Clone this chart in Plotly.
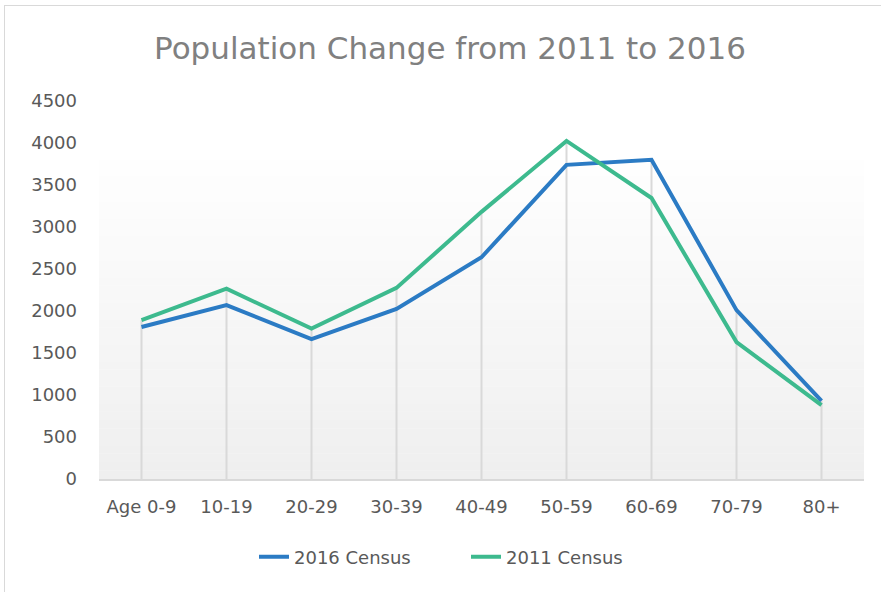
import plotly.graph_objects as go

categories = ["Age 0-9", "10-19", "20-29", "30-39", "40-49", "50-59", "60-69", "70-79", "80+"]
census_2016 = [1810, 2070, 1665, 2025, 2640, 3740, 3800, 2010, 930]
census_2011 = [1890, 2265, 1790, 2275, 3180, 4025, 3345, 1630, 880]
y_ticks = [0, 500, 1000, 1500, 2000, 2500, 3000, 3500, 4000, 4500]

BLUE = "#2B7BC4"
GREEN = "#3DBA8E"
FONT = "DejaVu Sans"

fig = go.Figure()

# drop lines from the higher point of each category down to the axis
drop_x, drop_y = [], []
for c, a, b in zip(categories, census_2016, census_2011):
    drop_x += [c, c, None]
    drop_y += [0, max(a, b), None]
fig.add_trace(go.Scatter(x=drop_x, y=drop_y, mode="lines",
                         line=dict(color="#d9d9d9", width=2),
                         showlegend=False, hoverinfo="skip"))

fig.add_trace(go.Scatter(x=categories, y=census_2016, mode="lines", name="2016 Census",
                         line=dict(color=BLUE, width=4)))
fig.add_trace(go.Scatter(x=categories, y=census_2011, mode="lines", name="2011 Census",
                         line=dict(color=GREEN, width=4)))

W, H = 881, 592
ML, MR, MT, MB = 99, 17, 101, 113

# gradient plot background (white at top to light gray at bottom), from 4000 level down
shapes = []
n = 40
top = 4000 / 4500
for i in range(n):
    y0 = top * i / n
    y1 = top * (i + 1) / n
    t = i / (n - 1)  # 0 at bottom, 1 at top
    g = int(round(239 + (255 - 239) * t))
    shapes.append(dict(type="rect", xref="x domain", yref="y domain",
                       x0=0, x1=1, y0=y0, y1=y1 + 0.001,
                       fillcolor=f"rgb({g},{g},{g})", line=dict(width=0), layer="below"))

# outer border: left and top edges of the chart frame
pw = W - ML - MR
ph = H - MT - MB
def px_x(p):
    return (p - ML) / pw
def px_y(p):
    return (H - MB - p) / ph
shapes.append(dict(type="line", xref="paper", yref="paper",
                   x0=px_x(4.5), x1=px_x(4.5), y0=px_y(5), y1=px_y(H + 5),
                   line=dict(color="#d9d9d9", width=1)))
shapes.append(dict(type="line", xref="paper", yref="paper",
                   x0=px_x(4.5), x1=px_x(W + 5), y0=px_y(5.5), y1=px_y(5.5),
                   line=dict(color="#d9d9d9", width=1)))

fig.update_layout(
    width=W, height=H,
    margin=dict(l=ML, r=MR, t=MT, b=MB),
    paper_bgcolor="white", plot_bgcolor="white",
    shapes=shapes,
    title=dict(text="Population Change from 2011 to 2016", x=450 / W, xref="container", xanchor="center",
               y=1 - 48 / H, yref="container", yanchor="middle",
               font=dict(family=FONT, size=31, color="#808080")),
    xaxis=dict(type="category", range=[-0.5, 8.5], showgrid=False, zeroline=False,
               showline=True, linecolor="#d9d9d9", linewidth=2, ticks="",
               tickfont=dict(family=FONT, size=18, color="#595959"), ticklabelstandoff=10),
    yaxis=dict(range=[0, 4500], tickvals=y_ticks, showgrid=False, zeroline=False, showline=False,
               tickfont=dict(family=FONT, size=18, color="#595959"), ticks="", ticklabelstandoff=21),
    legend=dict(orientation="h", x=px_x(466), xanchor="center", y=px_y(557), yanchor="middle",
                entrywidth=167, entrywidthmode="pixels",
                font=dict(family=FONT, size=18, color="#595959")),
)

fig.write_html("out.html", config={"displayModeBar": False},
               post_script="document.body.style.margin='0';")
